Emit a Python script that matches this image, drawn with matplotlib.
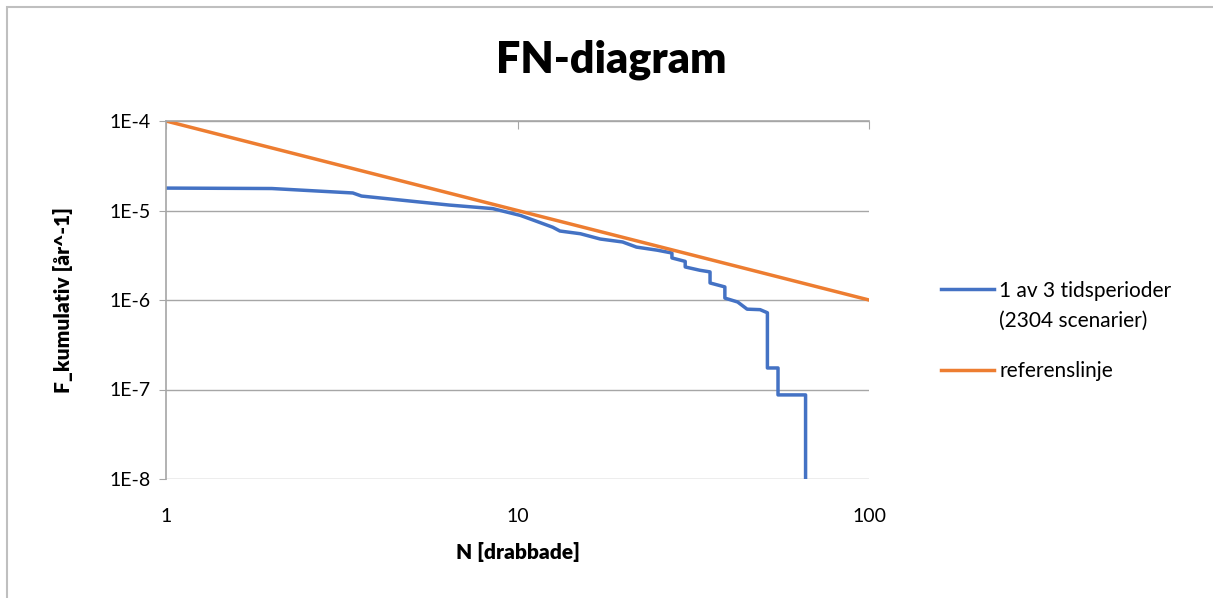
import matplotlib.pyplot as plt
from matplotlib.patches import Rectangle

# FN-kurva
N_fn = [1, 2.0, 3.4, 3.6, 6.4, 8.5, 10.2, 11.1, 12.6, 13.2, 15.1, 17.2, 19.9,
        21.8, 25, 27.5, 27.5, 30, 30, 33, 35.3, 35.3, 38.9, 38.9, 42.3, 45,
        49, 51.4, 51.4, 55.1, 55.1, 66, 66]
F_fn = [1.78e-5, 1.76e-5, 1.57e-5, 1.45e-5, 1.15e-5, 1.05e-5, 8.8e-6, 7.8e-6,
        6.5e-6, 5.9e-6, 5.5e-6, 4.8e-6, 4.45e-6, 3.9e-6, 3.6e-6, 3.35e-6,
        2.95e-6, 2.7e-6, 2.34e-6, 2.15e-6, 2.06e-6, 1.55e-6, 1.4e-6, 1.05e-6,
        9.5e-7, 7.9e-7, 7.8e-7, 7.2e-7, 1.74e-7, 1.74e-7, 8.7e-8, 8.7e-8, 1e-8]

N_ref = [1, 100]
F_ref = [1e-4, 1e-6]

x_ticks = [1, 10, 100]
x_labels = ['1', '10', '100']
y_ticks = [1e-8, 1e-7, 1e-6, 1e-5, 1e-4]
y_labels = ['1E-8', '1E-7', '1E-6', '1E-5', '1E-4']

plt.rcParams['font.family'] = ['Lato', 'DejaVu Sans']

fig = plt.figure(figsize=(12.13, 5.98), dpi=100)
ax = fig.add_axes([166/1213, 1-479/598, (869-166)/1213, (479-121)/598])

grid_col = '#A6A6A6'
ax.plot(N_fn, F_fn, color='#4472C4', linewidth=2.5,
        label='1 av 3 tidsperioder\n(2304 scenarier)')
ax.plot(N_ref, F_ref, color='#ED7D31', linewidth=2.5, label='referenslinje')

ax.set_xscale('log')
ax.set_yscale('log')
ax.set_xlim(1, 100)
ax.set_ylim(1e-8, 1e-4)
ax.set_xticks(x_ticks)
ax.set_xticklabels(x_labels)
ax.set_yticks(y_ticks)
ax.set_yticklabels(y_labels)
ax.minorticks_off()

ax.grid(True, axis='y', color=grid_col, linewidth=1)
for s in ['right', 'bottom']:
    ax.spines[s].set_visible(False)
for s in ['left', 'top']:
    ax.spines[s].set_color(grid_col)
    ax.spines[s].set_linewidth(1.2)

ax.tick_params(axis='x', top=True, bottom=False, labeltop=False, labelbottom=True,
               direction='in', length=6, color=grid_col, labelsize=14, pad=21)
ax.tick_params(axis='y', direction='out', length=5, color=grid_col, labelsize=14, pad=6)

ax.set_xlabel('N [drabbade]', fontsize=15, fontweight='heavy', labelpad=12)
ax.set_ylabel('F_kumulativ [år^-1]', fontsize=15, fontweight='heavy', labelpad=26)

fig.text(0.504, 0.9, 'FN-diagram', ha='center', va='center', fontsize=31, fontweight='heavy')

leg = fig.legend(loc='center left', bbox_to_anchor=(922/1213, 1-331/598), frameon=False,
                 fontsize=15, handlelength=2.55, handletextpad=0.25, labelspacing=1.45)
for t in leg.get_texts():
    t.set_linespacing(1.6)
# flytta blå legendlinje upp till första textraden
h0 = leg.legend_handles[0]
h0.set_ydata([v + 12.5 for v in h0.get_ydata()])

fig.patches.append(Rectangle((7/1213, -0.1), 1.2, 1-7/598+0.1, transform=fig.transFigure,
                             fill=False, edgecolor='#BFBFBF', linewidth=1.5))

fig.savefig('out.png', dpi=100)
